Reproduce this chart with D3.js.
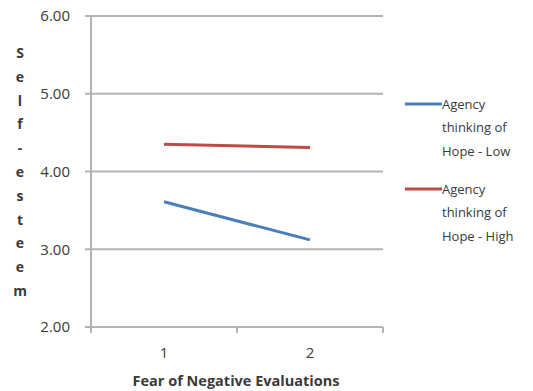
<!DOCTYPE html>
<html>
<head>
<meta charset="utf-8">
<script src="https://cdn.jsdelivr.net/npm/d3@7"></script>
<style>
  body { margin: 0; background: #fff; }
  text { font-family: "Open Sans", sans-serif; fill: #3a3a3a; }
</style>
</head>
<body>
<div id="chart"></div>
<script>
// data
var categories = ["1", "2"];
var seriesNames = ["Agency thinking of Hope - Low", "Agency thinking of Hope - High"];
var lowValues = [3.61, 3.12];
var highValues = [4.35, 4.31];
var yTicks = [2, 3, 4, 5, 6];
var yTitle = "Self-esteem";
var xTitle = "Fear of Negative Evaluations";

var width = 533, height = 391;
var margin = {top: 16, right: 150, bottom: 64, left: 91};

var svg = d3.select("#chart")
    .append("svg")
    .attr("width", width)
    .attr("height", height);

var x = d3.scaleBand()
    .domain(categories)
    .range([margin.left, width - margin.right]);

var y = d3.scaleLinear()
    .domain([2, 6])
    .range([height - margin.bottom, margin.top]);

// gridlines + left ticks
svg.append("g")
    .selectAll("line")
    .data(yTicks)
    .enter()
    .append("line")
    .attr("x1", margin.left - 6)
    .attr("x2", width - margin.right)
    .attr("y1", function(d) { return y(d); })
    .attr("y2", function(d) { return y(d); })
    .attr("stroke", "#b3b3b3")
    .attr("stroke-width", 2);

// y labels
svg.append("g")
    .selectAll("text")
    .data(yTicks)
    .enter()
    .append("text")
    .attr("x", 70)
    .attr("y", function(d) { return y(d); })
    .attr("dy", "0.35em")
    .attr("text-anchor", "end")
    .style("font-size", "15px")
    .text(function(d) { return d3.format(".2f")(d); });

// vertical axis
svg.append("line")
    .attr("x1", margin.left).attr("x2", margin.left)
    .attr("y1", margin.top).attr("y2", height - margin.bottom + 5)
    .attr("stroke", "#b3b3b3").attr("stroke-width", 2);

// x tick marks at band edges
var edges = categories.map(function(c) { return x(c); }).concat([x.range()[1]]);
svg.append("g")
    .selectAll("line")
    .data(edges)
    .enter()
    .append("line")
    .attr("x1", function(d) { return d; })
    .attr("x2", function(d) { return d; })
    .attr("y1", y(2))
    .attr("y2", y(2) + 6)
    .attr("stroke", "#b3b3b3").attr("stroke-width", 2);

// x labels
svg.append("g")
    .selectAll("text")
    .data(categories)
    .enter()
    .append("text")
    .attr("x", function(d) { return x(d) + x.bandwidth() / 2; })
    .attr("y", 358)
    .attr("text-anchor", "middle")
    .style("font-size", "15px")
    .text(function(d) { return d; });

// x title
svg.append("text")
    .attr("x", 236)
    .attr("y", 386)
    .attr("text-anchor", "middle")
    .style("font-size", "14.5px")
    .style("font-weight", "bold")
    .text(xTitle);

// y title, stacked letters
svg.append("g")
    .selectAll("text")
    .data(yTitle.split(""))
    .enter()
    .append("text")
    .attr("x", 20)
    .attr("y", function(d, i) { return 53 + i * 23.8; })
    .attr("dy", "0.35em")
    .attr("text-anchor", "middle")
    .style("font-size", "14px")
    .style("font-weight", "bold")
    .text(function(d) { return d; });

// lines
var line = d3.line()
    .x(function(d, i) { return x(categories[i]) + x.bandwidth() / 2; })
    .y(function(d) { return y(d); });

var series = [
    {name: seriesNames[0], values: lowValues, color: "#4a7ebb"},
    {name: seriesNames[1], values: highValues, color: "#be4b48"}
];

svg.selectAll(".series")
    .data(series)
    .enter()
    .append("path")
    .attr("class", "series")
    .attr("d", function(d) { return line(d.values); })
    .attr("fill", "none")
    .attr("stroke", function(d) { return d.color; })
    .attr("stroke-width", 3);

// legend
var legendRows = [["Agency", "thinking of", "Hope - Low"], ["Agency", "thinking of", "Hope - High"]];
var legend = svg.selectAll(".legend")
    .data(series)
    .enter()
    .append("g")
    .attr("class", "legend")
    .attr("transform", function(d, i) { return "translate(405," + (104 + i * 85) + ")"; });

legend.append("line")
    .attr("x1", 0).attr("x2", 37)
    .attr("stroke", function(d) { return d.color; })
    .attr("stroke-width", 3);

legend.each(function(d, i) {
    d3.select(this).selectAll("text")
        .data(legendRows[i])
        .enter()
        .append("text")
        .attr("x", 37)
        .attr("y", function(t, j) { return j * 23.5; })
        .attr("dy", "0.35em")
        .style("font-size", "13px")
        .text(function(t) { return t; });
});
</script>
</body>
</html>
